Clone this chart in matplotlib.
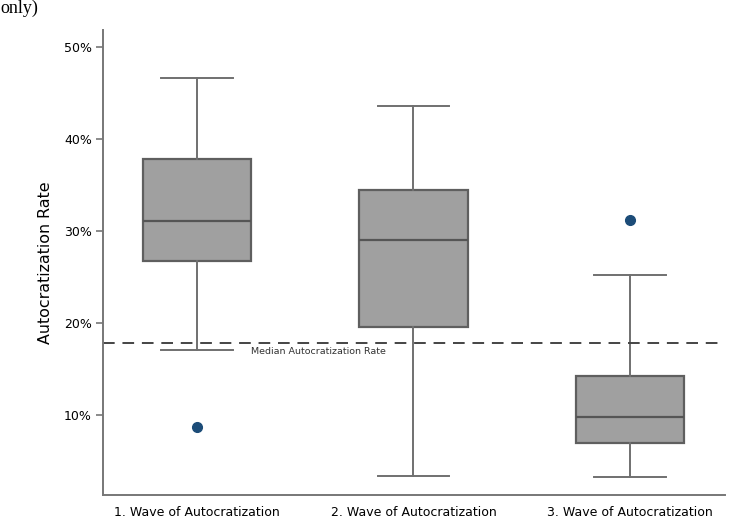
import matplotlib
matplotlib.use("Agg")
from matplotlib import pyplot as plt
from matplotlib.ticker import FuncFormatter

# box summaries per wave (percent)
waves = ["1. Wave of Autocratization", "2. Wave of Autocratization", "3. Wave of Autocratization"]
whisker_low = [17.1, 3.4, 3.3]
q1 = [26.7, 19.6, 7.0]
medians = [31.1, 29.0, 9.8]
q3 = [37.8, 34.5, 14.2]
whisker_high = [46.6, 43.6, 25.2]
outliers = [[8.7], [], [31.2]]
overall_median = 17.8

stats = []
for i, name in enumerate(waves):
    stats.append({
        "label": name,
        "whislo": whisker_low[i], "q1": q1[i], "med": medians[i],
        "q3": q3[i], "whishi": whisker_high[i], "fliers": outliers[i],
    })

fig = plt.figure(figsize=(7.31, 5.32), dpi=100)
ax = fig.add_axes([0.141, 0.0695, 0.851, 0.874])

ax.bxp(stats, positions=[1, 2, 3], widths=0.5, capwidths=0.33,
       patch_artist=True, showfliers=True,
       boxprops=dict(facecolor="#a0a0a0", edgecolor="#5f5f5f", linewidth=1.6),
       medianprops=dict(color="#555555", linewidth=1.6),
       whiskerprops=dict(color="#707070", linewidth=1.4),
       capprops=dict(color="#707070", linewidth=1.4),
       flierprops=dict(marker="o", markerfacecolor="#1c4c78",
                       markeredgecolor="#1c4c78", markersize=7))

ax.axhline(overall_median, color="#444444", linewidth=1.4, dashes=(6, 4))
ax.text(1.25, overall_median - 0.45, "Median Autocratization Rate",
        fontsize=6.8, color="#333333", va="top", ha="left")

ax.set_xlim(0.566, 3.44)
ax.set_ylim(1.3, 51.85)
ax.set_yticks([10, 20, 30, 40, 50])
ax.yaxis.set_major_formatter(FuncFormatter(lambda v, p: f"{v:.0f}%"))
ax.set_ylabel("Autocratization Rate", fontsize=11.4, labelpad=8)

for side in ("top", "right"):
    ax.spines[side].set_visible(False)
for side in ("left", "bottom"):
    ax.spines[side].set_color("#777777")
    ax.spines[side].set_linewidth(1.4)
ax.tick_params(axis="y", length=5, width=1.2, color="#777777", labelsize=9, pad=3)
ax.tick_params(axis="x", length=0, labelsize=9, pad=8)

# tail of the caption above the chart
fig.text(0.0, 0.976, "only)", fontsize=13, family="Liberation Serif",
         va="baseline", ha="left")

fig.savefig("out.png", dpi=100)
